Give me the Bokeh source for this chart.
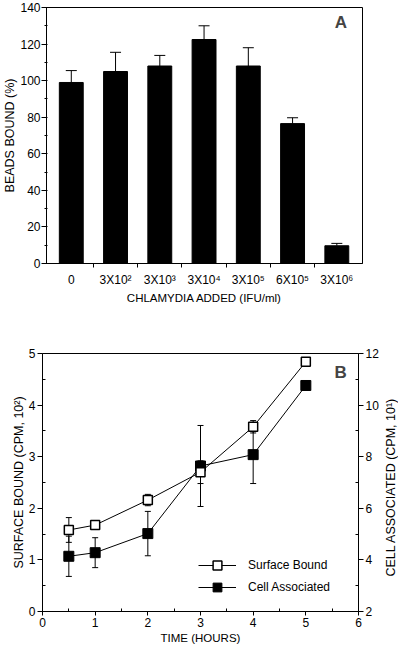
import math
from bokeh.plotting import figure
from bokeh.models import (Range1d, FixedTicker, Whisker, TeeHead, ColumnDataSource,
                          LinearAxis, Label, Legend, LegendItem)
from bokeh.core.properties import value
from bokeh.layouts import column, row
from bokeh.embed import file_html
from bokeh.resources import INLINE

FONT = "Liberation Sans"

# ---------------- Panel A data ----------------
doses = ["0", "3X10²", "3X10³", "3X10⁴", "3X10⁵", "6X10⁵", "3X10⁶"]
beads_bound = [99, 105, 108, 122.5, 108, 76.5, 9.7]
beads_err_top = [105.5, 115.5, 113.8, 130, 118, 79.7, 11]

# ---------------- Panel B data ----------------
time_h = [0.5, 1, 2, 3, 4, 5]
surface_bound = [1.58, 1.675, 2.16, 2.70, 3.58, 4.84]
surface_err = [0.24, 0.05, 0.11, 0.22, 0.12, 0.0]
cell_assoc = [4.14, 4.28, 5.02, 7.64, 8.08, 10.76]
cell_err = [0.78, 0.58, 0.86, 1.57, 1.12, 0.0]
right_title = "CELL ASSOCIATED (CPM, 10¹)"


def style_axis(ax, label_size="12px", tick_size="12px"):
    ax.axis_line_color = "black"
    ax.major_tick_line_color = "black"
    ax.minor_tick_line_color = "black"
    ax.major_label_text_color = "black"
    ax.major_label_text_font = FONT
    ax.major_label_text_font_size = tick_size
    ax.axis_label_text_font = FONT
    ax.axis_label_text_font_size = label_size
    ax.axis_label_text_font_style = "normal"
    ax.axis_label_text_color = "black"
    ax.major_label_standoff = 2
    ax.axis_label_standoff = 2


# ================= Panel A =================
idx = list(range(len(doses)))
p1 = figure(width=398, height=306, output_backend="svg", toolbar_location=None,
            x_range=Range1d(-0.56, 6.58), y_range=Range1d(0, 140),
            min_border_left=0, min_border_right=36, min_border_top=7, min_border_bottom=0)
p1.grid.visible = False
p1.outline_line_color = "black"
p1.outline_line_alpha = 1
p1.background_fill_color = "white"
p1.border_fill_color = "white"

p1.vbar(x=idx, top=beads_bound, width=0.54, color="black")
srcA = ColumnDataSource(dict(x=idx, lower=beads_bound, upper=beads_err_top))
p1.add_layout(Whisker(base="x", lower="lower", upper="upper", source=srcA,
                      line_color="black", line_width=1, lower_head=None,
                      upper_head=TeeHead(size=11, line_color="black", line_width=1)))

xa = p1.xaxis[0]
xa.ticker = FixedTicker(ticks=idx, minor_ticks=[i + 0.5 for i in idx[:-1]])
xa.major_label_overrides = {i: d for i, d in zip(idx, doses)}
xa.major_tick_out = 0
xa.major_tick_in = 0
xa.minor_tick_out = 4
xa.minor_tick_in = 0
xa.axis_label = "CHLAMYDIA ADDED (IFU/ml)"
style_axis(xa, label_size="11.5px", tick_size="12px")
xa.major_label_standoff = 5

ya = p1.yaxis[0]
ya.ticker = FixedTicker(ticks=list(range(0, 141, 20)), minor_ticks=list(range(0, 141, 10)))
ya.major_tick_out = 5
ya.major_tick_in = 0
ya.minor_tick_out = 2
ya.minor_tick_in = 1
ya.axis_label = "BEADS BOUND (%)"
style_axis(ya, label_size="12.5px")
ya.major_label_standoff = 1
ya.axis_label_standoff = 0

p1.add_layout(Label(x=6.09, y=132, text="A", text_font=FONT, text_font_size="17px",
                    text_font_style="bold", text_align="center", text_baseline="middle"))

# ================= Panel B =================
B_H = 340
p2 = figure(width=382, height=B_H, output_backend="svg", toolbar_location=None,
            x_range=Range1d(0, 6), y_range=Range1d(0, 5),
            min_border_left=42, min_border_right=24, min_border_top=47, min_border_bottom=0)
p2.grid.visible = False
p2.outline_line_color = "black"
p2.background_fill_color = "white"
p2.border_fill_color = "white"
p2.extra_y_ranges = {"cell": Range1d(2, 12)}

# cell associated (filled)
srcC = ColumnDataSource(dict(x=time_h, y=cell_assoc,
                             lo=[v - e for v, e in zip(cell_assoc, cell_err)],
                             hi=[v + e for v, e in zip(cell_assoc, cell_err)]))
p2.add_layout(Whisker(base="x", lower="lo", upper="hi", source=srcC, y_range_name="cell",
                      line_color="black", line_width=1,
                      lower_head=TeeHead(size=6, line_color="black", line_width=1),
                      upper_head=TeeHead(size=6, line_color="black", line_width=1)))
lc = p2.line("x", "y", source=srcC, y_range_name="cell", line_color="black", line_width=1)
mc = p2.scatter("x", "y", source=srcC, y_range_name="cell", marker="square", size=10,
                fill_color="black", line_color="black")

# surface bound (open)
srcS = ColumnDataSource(dict(x=time_h, y=surface_bound,
                             lo=[v - e for v, e in zip(surface_bound, surface_err)],
                             hi=[v + e for v, e in zip(surface_bound, surface_err)]))
p2.add_layout(Whisker(base="x", lower="lo", upper="hi", source=srcS,
                      line_color="black", line_width=1,
                      lower_head=TeeHead(size=6, line_color="black", line_width=1),
                      upper_head=TeeHead(size=6, line_color="black", line_width=1)))
ls = p2.line("x", "y", source=srcS, line_color="black", line_width=1)
ms = p2.scatter("x", "y", source=srcS, marker="square", size=9,
                fill_color="white", line_color="black", line_width=1.5)

xb = p2.xaxis[0]
xb.ticker = FixedTicker(ticks=list(range(0, 7)), minor_ticks=[i + 0.5 for i in range(6)])
xb.major_tick_out = 4
xb.major_tick_in = 0
xb.minor_tick_out = 0
xb.minor_tick_in = 3
xb.axis_label = "TIME (HOURS)"
style_axis(xb, label_size="11.5px")

yb = p2.yaxis[0]
yb.ticker = FixedTicker(ticks=list(range(0, 6)), minor_ticks=[i + 0.5 for i in range(5)])
yb.major_tick_out = 5
yb.major_tick_in = 0
yb.minor_tick_out = 0
yb.minor_tick_in = 3
yb.axis_label = "SURFACE BOUND (CPM, 10²)"
style_axis(yb, label_size="12.5px")
yb.axis_label_standoff = 0

yr = LinearAxis(y_range_name="cell")
yr.ticker = FixedTicker(ticks=list(range(2, 13, 2)), minor_ticks=list(range(3, 12, 2)))
yr.major_tick_out = 5
yr.major_tick_in = 0
yr.minor_tick_out = 0
yr.minor_tick_in = 3
style_axis(yr, label_size="12.5px")
p2.add_layout(yr, "right")

p2.add_layout(Label(x=5.66, y=4.64, text="B", text_font=FONT, text_font_size="17px",
                    text_font_style="bold", text_align="center", text_baseline="middle"))

legend = Legend(items=[LegendItem(label="Surface Bound", renderers=[ls, ms]),
                       LegendItem(label="Cell Associated", renderers=[lc, mc])],
                location=(156, 13), glyph_width=38, glyph_height=22, spacing=-4,
                label_standoff=12, padding=0, margin=0,
                border_line_color=None, background_fill_alpha=0,
                label_text_font=FONT, label_text_font_size="12px", label_text_color="black")
p2.add_layout(legend)

# narrow strip holding the right-hand axis title (reads bottom-to-top)
p3 = figure(width=16, height=B_H, output_backend="svg", toolbar_location=None,
            x_range=Range1d(0, 16), y_range=Range1d(0, B_H),
            min_border=0, min_border_left=0, min_border_right=0,
            min_border_top=0, min_border_bottom=0)
p3.axis.visible = False
p3.grid.visible = False
p3.outline_line_color = None
p3.background_fill_color = "white"
p3.border_fill_color = "white"
p3.text(x=[8], y=[B_H - 176], text=[right_title], angle=math.pi / 2,
        text_font=value(FONT), text_font_size="12.5px", text_color="black",
        text_align="center", text_baseline="middle")

page = column(p1, row(p2, p3, spacing=0), spacing=0)
open("out.html", "w").write(file_html(page, INLINE))
